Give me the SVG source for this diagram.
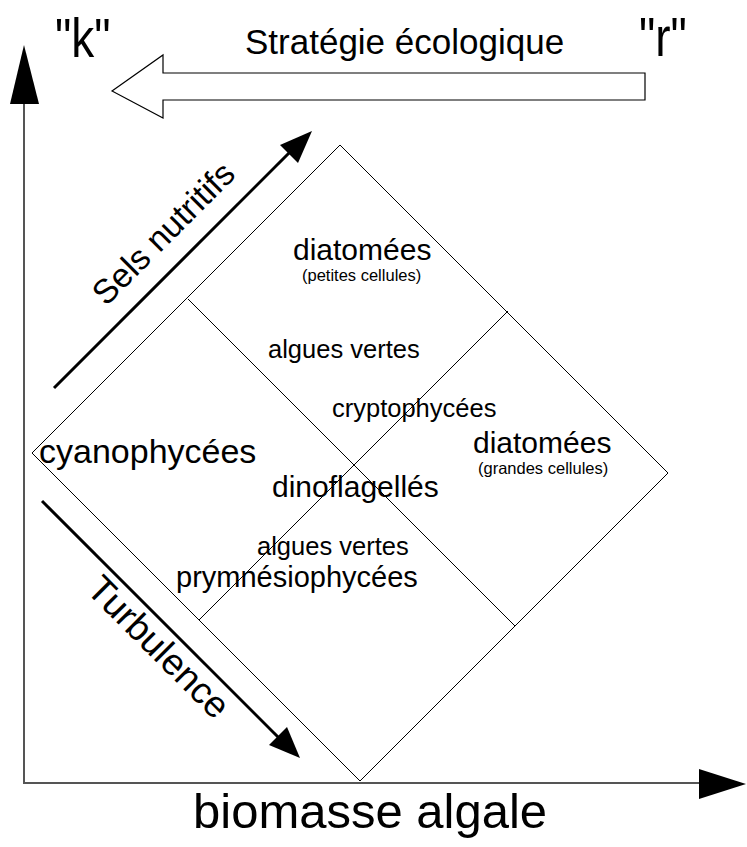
<svg xmlns="http://www.w3.org/2000/svg" width="747" height="847" viewBox="0 0 747 847">
<style>
text{font-family:"Liberation Sans",Arial,sans-serif;fill:#000}
.thin{fill:none;stroke:#000;stroke-width:1}
.axis{fill:none;stroke:#555;stroke-width:2}
.big{font-size:30px}
.mid{font-size:25.5px}
.small{font-size:16.5px}
.quote{font-size:56px}
</style>
<rect width="747" height="847" fill="#fff"/>
<g id="axes">
<line class="axis" x1="24" y1="100" x2="24" y2="783"/>
<line class="axis" x1="23" y1="783" x2="702" y2="783"/>
<polygon points="24,45 10,104 39,104" fill="#000"/>
<polygon points="699,769 746,784 699,799" fill="#000"/>
</g>
<g id="strategy">
<polygon points="112,91 163,55 163,73 645,73 645,100 163,100 163,118" fill="#fff" stroke="#000" stroke-width="1.2"/>
<text x="245" y="54" style="font-size:35px">Stratégie écologique</text>
<text class="quote" transform="translate(55,57) scale(0.82,1)">"k"</text>
<text class="quote" transform="translate(639,56) scale(0.82,1)">"r"</text>
</g>
<g id="diamond">
<polygon class="thin" points="340,145 668,473 360,781 32,453"/>
<line class="thin" x1="188" y1="299" x2="515" y2="626"/>
<line class="thin" x1="508" y1="311" x2="199" y2="620"/>
</g>
<g id="connectors">
<line x1="54" y1="388" x2="296" y2="146" stroke="#000" stroke-width="3"/>
<polygon points="312,131 280,145 298,163" fill="#000"/>
<line x1="42" y1="501" x2="284" y2="743" stroke="#000" stroke-width="3"/>
<polygon points="300,758 269,745 287,727" fill="#000"/>
</g>
<g id="labels">
<text class="big" x="293" y="260">diatomées</text>
<text class="small" x="302" y="281">(petites cellules)</text>
<text class="mid" x="268" y="358">algues vertes</text>
<text class="mid" x="332" y="417">cryptophycées</text>
<text class="big" x="473" y="453">diatomées</text>
<text class="small" x="478" y="474">(grandes cellules)</text>
<text x="39" y="463" style="font-size:34px">cyanophycées</text>
<text class="big" x="272" y="497">dinoflagellés</text>
<text class="mid" x="257" y="555">algues vertes</text>
<text x="176" y="587" style="font-size:29px">prymnésiophycées</text>
<text transform="translate(106,307) rotate(-45)" style="font-size:34px">Sels nutritifs</text>
<text transform="translate(85,591) rotate(45)" style="font-size:37px">Turbulence</text>
<text x="193" y="828" style="font-size:49px">biomasse algale</text>
</g>
</svg>
